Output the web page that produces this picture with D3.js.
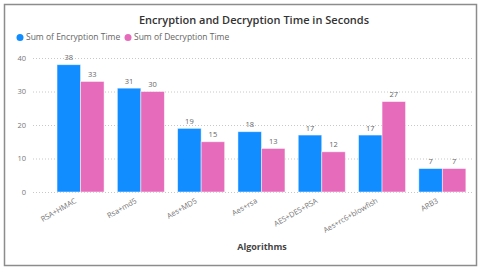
<!DOCTYPE html>
<meta charset="utf-8">
<style>
body { margin: 0; background: #fff; }
text { font-family: "Open Sans", "Noto Sans", sans-serif; }
.grid line { stroke: #c8c8c8; stroke-dasharray: 1,2; }
.grid path { display: none; }
.axis path, .axis line { display: none; }
.axis text { fill: #777; font-size: 7px; }
</style>
<svg width="480" height="270"></svg>
<script src="https://d3js.org/d3.v7.min.js"></script>
<script>
var algorithms = ["RSA+HMAC", "Rsa+md5", "Aes+MD5", "Aes+rsa", "AES+DES+RSA", "Aes+rc6+blowfish", "ARB3"];
var encryption = [38, 31, 19, 18, 17, 17, 7];
var decryption = [33, 30, 15, 13, 12, 27, 7];
var seriesNames = ["Sum of Encryption Time", "Sum of Decryption Time"];
var yTicks = [0, 10, 20, 30, 40];

var colors = ["#118DFF", "#E66CBB"];
var svg = d3.select("svg");

// frame
svg.append("rect")
    .attr("x", 4.5).attr("y", 4.5)
    .attr("width", 472).attr("height", 261)
    .attr("fill", "#fff")
    .attr("stroke", "#8c8c8c")
    .attr("stroke-width", 1.5);

var x = d3.scaleBand().domain(algorithms).range([50.4, 472.5]).paddingInner(0.22).paddingOuter(0.11),
    xs = d3.scaleBand().domain([0, 1]).range([0, x.bandwidth()]),
    y = d3.scaleLinear().domain([0, 40]).range([192, 58]);

var data = algorithms.map(function(a, i) {
  return {name: a, values: [encryption[i], decryption[i]]};
});

svg.append("g")
    .attr("class", "grid")
    .attr("transform", "translate(0,0)")
    .call(d3.axisLeft(y).tickValues(yTicks).tickSize(-440).tickFormat(""))
    .attr("transform", "translate(33,0)")
  .selectAll("line")
    .attr("x1", 0).attr("x2", 440);

svg.append("g")
    .attr("class", "axis")
    .attr("transform", "translate(28,0)")
    .call(d3.axisLeft(y).tickValues(yTicks).tickSize(0).tickPadding(0))
  .selectAll("text")
    .attr("x", -2)
    .style("font-size", "7.5px");

var groups = svg.selectAll(".group")
  .data(data)
  .enter().append("g")
    .attr("transform", function(d) { return "translate(" + x(d.name) + ",0)"; });

groups.selectAll("rect")
  .data(function(d) { return d.values; })
  .enter().append("rect")
    .attr("x", function(d, i) { return xs(i); })
    .attr("y", function(d) { return y(d); })
    .attr("width", xs.bandwidth())
    .attr("height", function(d) { return y(0) - y(d); })
    .attr("fill", function(d, i) { return colors[i]; })
    .attr("stroke", "#fff")
    .attr("stroke-opacity", 0.6)
    .attr("stroke-width", 0.8);

groups.selectAll(".val")
  .data(function(d) { return d.values; })
  .enter().append("text")
    .attr("x", function(d, i) { return xs(i) + xs.bandwidth() / 2; })
    .attr("y", function(d) { return y(d) - 4.5; })
    .attr("text-anchor", "middle")
    .attr("fill", "#666")
    .style("font-size", "7.5px")
    .text(function(d) { return d; });

svg.append("g")
    .attr("class", "axis")
    .attr("transform", "translate(0,192)")
    .call(d3.axisBottom(x).tickSize(0).tickPadding(0))
  .selectAll("text")
    .attr("text-anchor", "end")
    .attr("transform", "translate(-5,8) rotate(-30)")
    .attr("y", 0)
    .attr("dy", "0.35em")
    .style("font-size", "7.5px");

svg.append("text")
    .attr("x", 254).attr("y", 24)
    .attr("text-anchor", "middle")
    .attr("fill", "#333")
    .style("font-size", "11px")
    .style("font-weight", "600")
    .text("Encryption and Decryption Time in Seconds");

var legend = svg.append("g").attr("transform", "translate(20,37.5)");
var lx = [0, 108];
seriesNames.forEach(function(s, i) {
  legend.append("circle")
    .attr("cx", lx[i]).attr("cy", 0).attr("r", 3.5)
    .attr("fill", colors[i]);
  legend.append("text")
    .attr("x", lx[i] + 6).attr("y", 0)
    .attr("dy", "0.35em")
    .attr("fill", "#666")
    .style("font-size", "8.5px")
    .text(s);
});

svg.append("text")
    .attr("x", 262).attr("y", 250)
    .attr("text-anchor", "middle")
    .attr("fill", "#444")
    .style("font-size", "9px")
    .style("font-weight", "bold")
    .text("Algorithms");
</script>
